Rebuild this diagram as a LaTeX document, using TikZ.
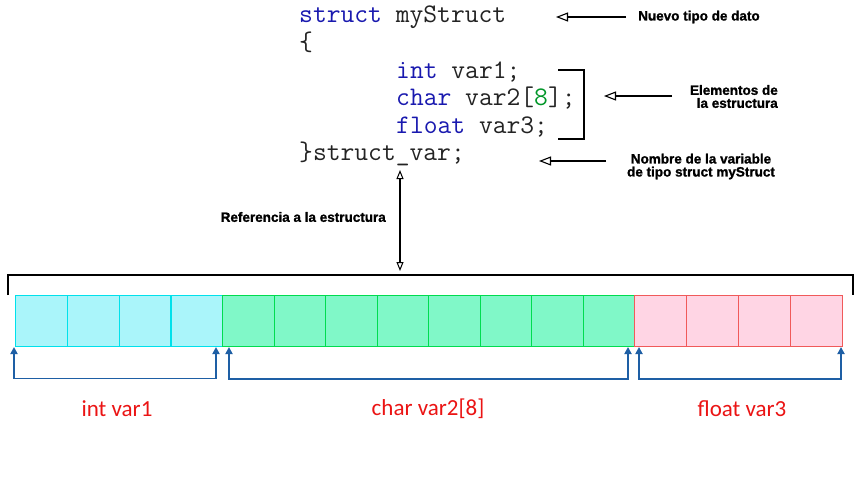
\documentclass[tikz,border=0pt]{standalone}
\usepackage{fontspec}
\setmainfont{Liberation Sans}
\newfontfamily\calibfont{Carlito}
\newfontfamily\heavyfont{Liberation Sans Bold}[FakeBold=1.2]
\usetikzlibrary{arrows.meta}
\definecolor{kw}{RGB}{25,25,175}
\definecolor{numgreen}{RGB}{0,150,40}
\definecolor{codeblack}{RGB}{35,35,35}
\definecolor{cyanfill}{RGB}{170,245,250}
\definecolor{cyanline}{RGB}{0,225,235}
\definecolor{greenfill}{RGB}{128,248,200}
\definecolor{greenline}{RGB}{0,220,80}
\definecolor{pinkfill}{RGB}{255,213,228}
\definecolor{pinkline}{RGB}{240,90,90}
\definecolor{arrblue}{RGB}{30,95,165}
\definecolor{lblred}{RGB}{235,20,20}
\tikzset{
  code/.style={anchor=base west, inner sep=0pt, text=codeblack, font=\ttfamily\fontsize{26.8}{27}\selectfont},
  lbl/.style={inner sep=0pt, font=\heavyfont\fontsize{13.5}{13}\selectfont, text=black},
  openarr/.style={line width=2pt, -{Triangle[open, length=12pt, width=9pt, line width=1.1pt]}},
  dblarr/.style={line width=1.4pt, {Triangle[open, length=9pt, width=7pt, line width=1pt]}-{Triangle[open, length=9pt, width=7pt, line width=1pt]}},
  brk/.style={line width=2.6pt, black},
  cyancell/.style={draw=cyanline, fill=cyanfill, line width=1.4pt, minimum width=51.75pt, minimum height=51pt, inner sep=0pt},
  greencell/.style={draw=greenline, fill=greenfill, line width=1.4pt, minimum width=51.5pt, minimum height=51pt, inner sep=0pt},
  pinkcell/.style={draw=pinkline, fill=pinkfill, line width=1.2pt, minimum width=52pt, minimum height=51pt, inner sep=0pt},
  bluearr/.style={draw=arrblue, line width=1.8pt, {Triangle[length=7pt, width=7pt]}-{Triangle[length=7pt, width=7pt]}},
  redlbl/.style={inner sep=0pt, text=lblred, font=\calibfont\fontsize{23}{26}\selectfont}
}
\begin{document}
\begin{tikzpicture}[x=1pt,y=-1pt]
\useasboundingbox[fill=white] (0,0) rectangle (857,488);
% code
\node[code] (l1) at (299,22.5) {\textcolor{kw}{struct} myStruct};
\node[code] (l2) at (299,50) {\{};
\node[code] (l3) at (396,78) {\textcolor{kw}{int} var1;};
\node[code] (l4) at (396,105.5) {\textcolor{kw}{char} var2[\textcolor{numgreen}{8}];};
\node[code] (l5) at (396,133) {\textcolor{kw}{float} var3;};
\node[code] (l6) at (299,160.5) {\}struct\_var;};
% bracket for elements
\coordinate (b1) at (558,70);
\coordinate (b2) at (558,139);
\draw[brk] (b1) -| (584,104.5) |- (b2);
% labels and arrows
\node[lbl, anchor=west] (t1) at (638,17) {Nuevo tipo de dato};
\coordinate (h1) at (556,17);
\draw[openarr] ([xshift=-12pt]t1.west) -- (h1);
\node[lbl, anchor=east, align=right] (t2) at (778,96.5) {Elementos de\\la estructura};
\coordinate (h2) at (604,96);
\draw[openarr] (672,96) -- (h2);
\node[lbl, anchor=north, align=center] (t3) at (701,153.5) {Nombre de la variable\\de tipo struct myStruct};
\coordinate (h3) at (539,161);
\draw[openarr] (606,161) -- (h3);
\node[lbl, anchor=east] (t4) at (386,217) {Referencia a la estructura};
\coordinate (v1) at (400,170);
\coordinate (v2) at (400,271);
\draw[dblarr] (v1) -- (v2);
% big bracket
\draw[line width=2.8pt] (8,295) |- (853,275) -- (853,295);
% cells
\foreach \i in {0,...,3} {
  \node[cyancell, anchor=north west] (c\i) at (15+51.75*\i, 295) {};
}
\foreach \i in {0,...,7} {
  \node[greencell, anchor=north west] (g\i) at (222+51.5*\i, 295) {};
}
\foreach \i in {0,...,3} {
  \node[pinkcell, anchor=north west] (p\i) at (634+52*\i, 295) {};
}
% blue range arrows
\coordinate (a1) at (14,347);
\coordinate (a2) at (216,347);
\draw[bluearr] (a1) -- (14,378.5) -- (216,378.5) -- (a2);
\coordinate (a3) at (229,347);
\coordinate (a4) at (628,347);
\draw[bluearr] (a3) -- (229,379) -- (628,379) -- (a4);
\coordinate (a5) at (639,347);
\coordinate (a6) at (841,347);
\draw[bluearr] (a5) -- (639,379) -- (841,379) -- (a6);
% red labels
\node[redlbl] (r1) at (117,409) {int var1};
\node[redlbl] (r2) at (428,409) {char var2[8]};
\node[redlbl] (r3) at (742,409) {float var3};
\end{tikzpicture}
\end{document}
